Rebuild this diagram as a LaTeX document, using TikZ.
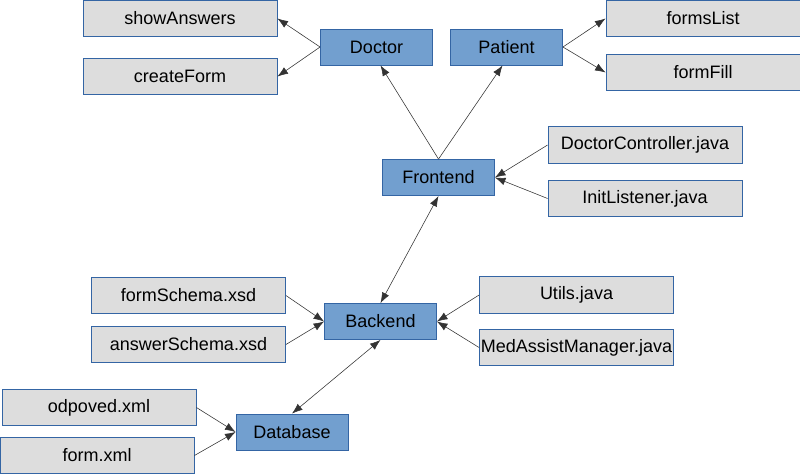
\documentclass[tikz,border=0pt]{standalone}
\usepackage{fontspec}
\setmainfont{Liberation Sans}
\usetikzlibrary{positioning, arrows.meta}
\definecolor{boxblue}{HTML}{729FCF}
\definecolor{boxgray}{HTML}{DDDDDD}
\definecolor{boxline}{HTML}{3465A4}

\tikzset{
  blueBox/.style={draw=boxline, fill=boxblue, line width=0.6pt,
    minimum width=2.8cm, minimum height=0.9cm, inner sep=0pt,
    font=\fontsize{12.8}{15}\selectfont},
  grayBox/.style={draw=boxline, fill=boxgray, line width=0.6pt,
    minimum width=4.85cm, minimum height=0.92cm, inner sep=0pt,
    font=\fontsize{12.8}{15}\selectfont},
  link/.style={-{Latex[length=7.5pt,width=5.5pt]}, line width=0.4pt, color=black!80}
}

\begin{document}
\begin{tikzpicture}[x=0.025cm, y=-0.025cm]
      \useasboundingbox (0,0) rectangle (800,474);
      % top row
      \node[grayBox] (showAnswers) at (180,18.5) {showAnswers};
      \node[grayBox] (createForm) at (180,76.5) {createForm};
      \node[blueBox] (doctor) at (376.5,47) {Doctor};
      \node[blueBox] (patient) at (506.5,47) {Patient};
      \node[grayBox] (formsList) at (703,18.5) {formsList};
      \node[grayBox] (formFill) at (703,72.5) {formFill};
      % frontend
      \node[blueBox] (frontend) at (438.5,177.5) {Frontend};
      \node[grayBox] (doctorCtrl) at (645,145) {DoctorController.java};
      \node[grayBox] (initListener) at (645,198.5) {InitListener.java};
      % backend
      \node[blueBox] (backend) at (380.5,321.5) {Backend};
      \node[grayBox] (formSchema) at (188.5,295.5) {formSchema.xsd};
      \node[grayBox] (answerSchema) at (188.5,344.5) {answerSchema.xsd};
      \node[grayBox] (utils) at (576.5,295) {Utils.java};
      \node[grayBox] (manager) at (576.5,347.5) {MedAssistManager.java};
      % database
      \node[blueBox] (database) at (292,432) {Database};
      \node[grayBox] (odpoved) at (99,407.5) {odpoved.xml};
      \node[grayBox] (formXml) at (97,455.5) {form.xml};

      \draw[link] (doctor.west) -- (showAnswers.east);
      \draw[link] (doctor.west) -- (createForm.east);
      \draw[link] (patient.east) -- (formsList.west);
      \draw[link] (patient.east) -- (formFill.west);
      \draw[link] (frontend.north) -- ([xshift=0.1cm]doctor.south);
      \draw[link] (frontend.north) -- ([xshift=-0.1cm]patient.south);
      \draw[link] (doctorCtrl.west) -- (frontend.east);
      \draw[link] (initListener.west) -- (frontend.east);
      \draw[link, {Latex[length=7.5pt,width=5.5pt]}-{Latex[length=7.5pt,width=5.5pt]}] (backend.north) -- (frontend.south);
      \draw[link] (formSchema.east) -- (backend.west);
      \draw[link] (answerSchema.east) -- (backend.west);
      \draw[link] (utils.west) -- (backend.east);
      \draw[link] (manager.west) -- (backend.east);
      \draw[link, {Latex[length=7.5pt,width=5.5pt]}-{Latex[length=7.5pt,width=5.5pt]}] (database.north) -- (backend.south);
      \draw[link] (odpoved.east) -- (database.west);
      \draw[link] (formXml.east) -- (database.west);
    \end{tikzpicture}
\end{document}
